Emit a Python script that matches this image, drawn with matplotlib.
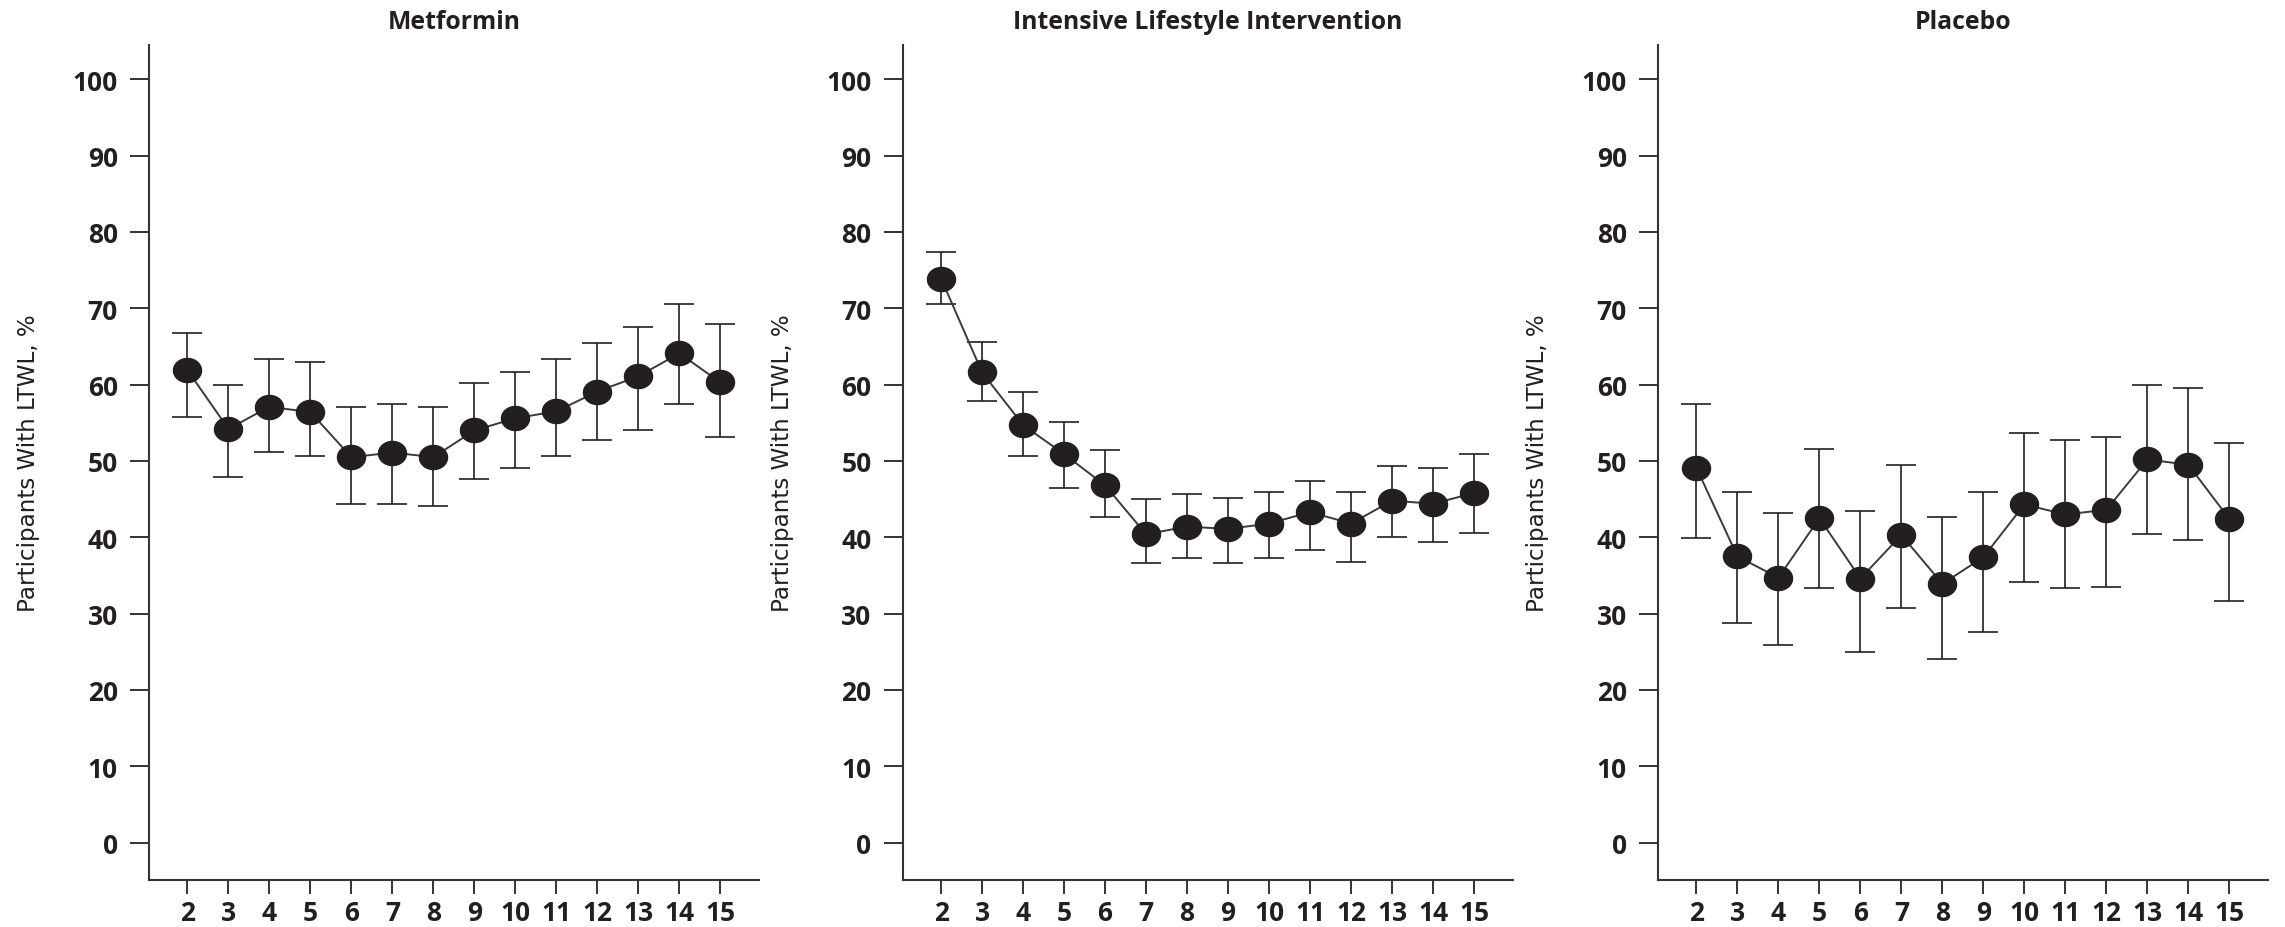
import numpy as np
import matplotlib
matplotlib.use("Agg")
import matplotlib.pyplot as plt
from matplotlib.path import Path

# Year of follow-up
years = [2, 3, 4, 5, 6, 7, 8, 9, 10, 11, 12, 13, 14, 15]

# Participants with long-term weight loss (%), with 95% CI bounds
metformin = [61.9, 54.2, 57.1, 56.4, 50.5, 51.1, 50.5, 54.0, 55.6, 56.5, 59.1, 61.1, 64.1, 60.3]
metformin_lo = [55.7, 47.9, 51.2, 50.6, 44.4, 44.4, 44.1, 47.7, 49.1, 50.6, 52.7, 54.0, 57.5, 53.1]
metformin_hi = [66.8, 59.9, 63.3, 63.0, 57.1, 57.5, 57.1, 60.2, 61.6, 63.3, 65.4, 67.5, 70.6, 67.9]

lifestyle = [73.9, 61.6, 54.7, 50.9, 46.8, 40.4, 41.4, 41.1, 41.8, 43.3, 41.8, 44.8, 44.4, 45.8]
lifestyle_lo = [70.6, 57.8, 50.6, 46.5, 42.7, 36.6, 37.3, 36.6, 37.3, 38.4, 36.8, 40.1, 39.4, 40.5]
lifestyle_hi = [77.4, 65.6, 59.0, 55.1, 51.4, 45.0, 45.7, 45.2, 46.0, 47.4, 46.0, 49.3, 49.1, 50.9]

placebo = [49.1, 37.5, 34.7, 42.5, 34.6, 40.3, 33.9, 37.4, 44.3, 43.0, 43.6, 50.2, 49.5, 42.4]
placebo_lo = [39.9, 28.8, 25.9, 33.3, 25.0, 30.7, 24.1, 27.6, 34.2, 33.3, 33.5, 40.4, 39.7, 31.7]
placebo_hi = [57.5, 46.0, 43.2, 51.6, 43.5, 49.5, 42.7, 46.0, 53.6, 52.8, 53.1, 59.9, 59.6, 52.4]

titles = ["Metformin", "Intensive Lifestyle Intervention", "Placebo"]
yticks = [0, 10, 20, 30, 40, 50, 60, 70, 80, 90, 100]
ylabel = "Participants With LTWL, %"

panels = [
    (metformin, metformin_lo, metformin_hi),
    (lifestyle, lifestyle_lo, lifestyle_hi),
    (placebo, placebo_lo, placebo_hi),
]

INK = "#231f20"
AXIS = "#333333"
plt.rcParams["font.family"] = ["Open Sans", "DejaVu Sans"]

# slightly flattened round marker
theta = np.linspace(0, 2 * np.pi, 60)
ellipse = Path(np.column_stack([np.cos(theta), 0.86 * np.sin(theta)]), closed=True)

W, H = 2285, 928
fig = plt.figure(figsize=(W / 100, H / 100), dpi=100)
lefts = [149.3, 903.0, 1658.3]
ax_w = 610.0
ax_bottom = 47.0
ax_top = 46.0

for left, title, (vals, lo, hi) in zip(lefts, titles, panels):
    ax = fig.add_axes([left / W, ax_bottom / H, ax_w / W, (H - ax_top - ax_bottom) / H])
    vals = np.asarray(vals)
    yerr = np.vstack([vals - np.asarray(lo), np.asarray(hi) - vals])
    ax.errorbar(years, vals, yerr=yerr, fmt="none", ecolor=INK, elinewidth=1.2,
                capsize=10.8, capthick=1.2, zorder=2)
    ax.plot(years, vals, color="#3a3a3a", lw=1.4, zorder=3)
    ax.plot(years, vals, linestyle="none", marker=ellipse, markersize=20.2,
            markerfacecolor=INK, markeredgecolor=INK, zorder=4)

    ax.set_xlim(1.07, 15.95)
    ax.set_ylim(-4.9, 104.5)
    ax.set_xticks(years)
    ax.set_yticks(yticks)
    for s in ("top", "right"):
        ax.spines[s].set_visible(False)
    for s in ("left", "bottom"):
        ax.spines[s].set_color(AXIS)
        ax.spines[s].set_linewidth(1.5)
    ax.tick_params(axis="y", length=13.7, width=1.4, color=AXIS, pad=9,
                   labelsize=19, labelcolor=INK)
    ax.tick_params(axis="x", length=10, width=1.4, color=AXIS, pad=4,
                   labelsize=19, labelcolor=INK)
    for lab in ax.get_xticklabels() + ax.get_yticklabels():
        lab.set_fontweight("bold")

    ax.set_title(title, fontsize=17.8, fontweight="bold", color=INK, pad=12)
    ax.set_ylabel(ylabel, fontsize=16.6, color=INK,
                  family=["Liberation Sans Narrow", "DejaVu Sans"])
    ax.yaxis.set_label_coords(-0.179, 0.5)

fig.savefig("out.png", dpi=100, facecolor="white")
